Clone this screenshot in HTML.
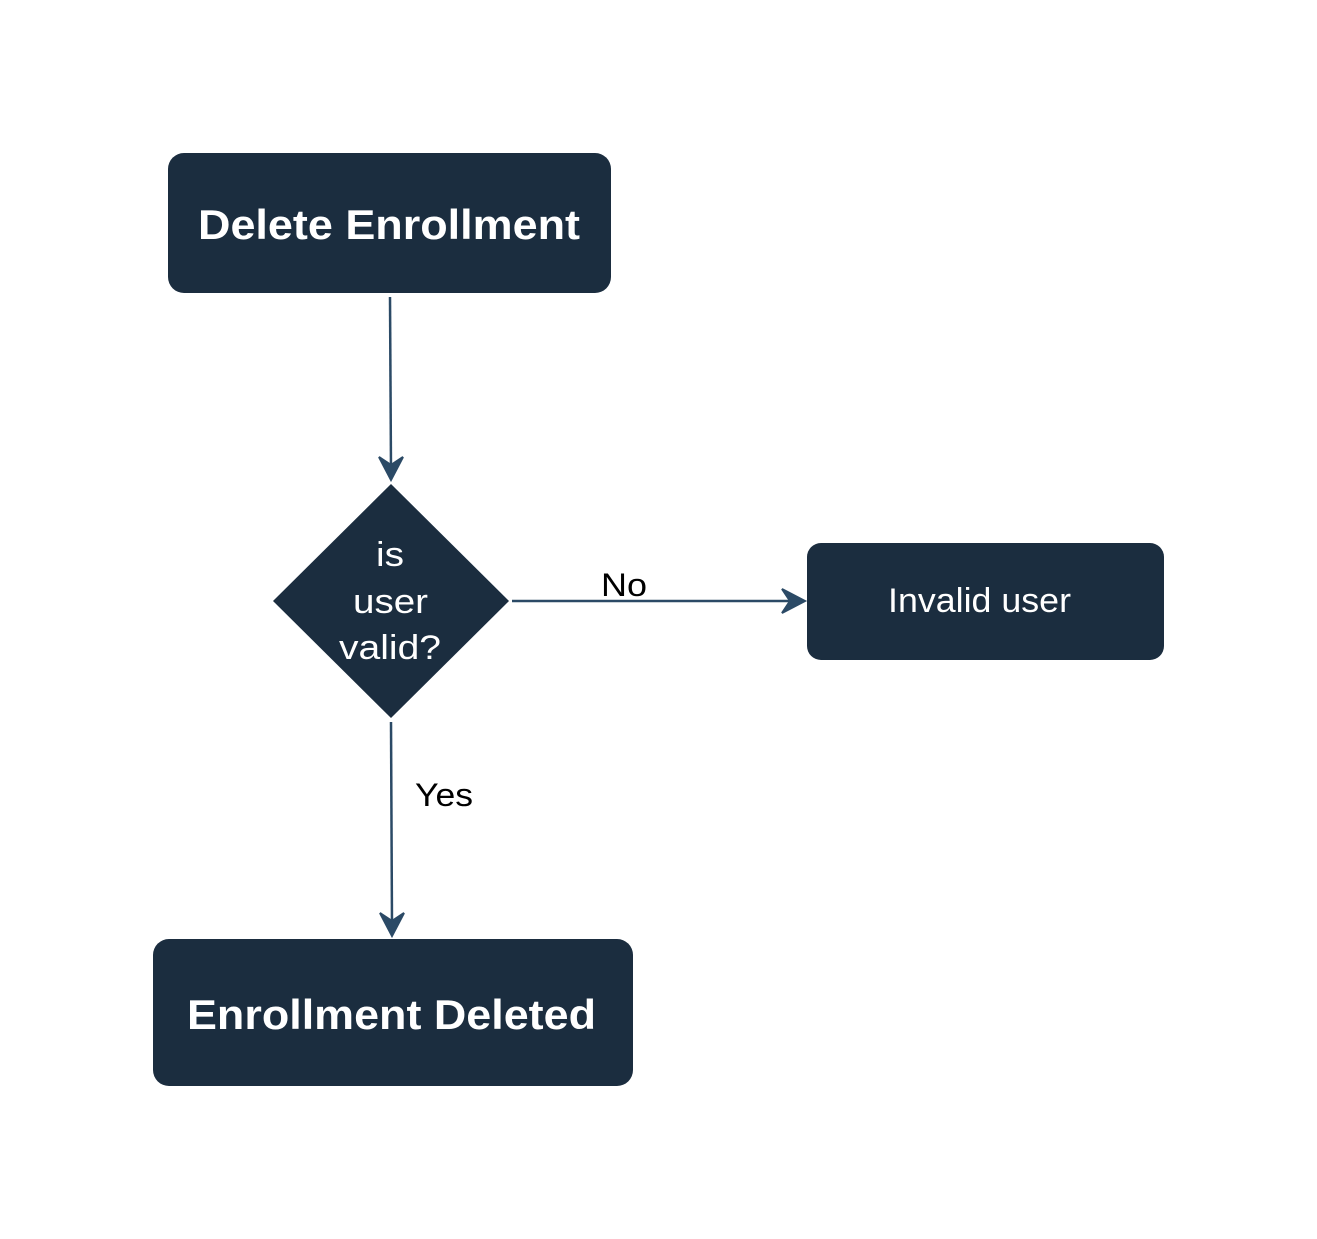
<!DOCTYPE html>
<html><head><meta charset="utf-8"><style>
html,body{margin:0;padding:0;background:#fff;}
svg{display:block;}
text{font-family:"Liberation Sans",sans-serif;}
</style></head><body>
<svg width="1317" height="1239" viewBox="0 0 1317 1239" xmlns="http://www.w3.org/2000/svg">
<rect x="168" y="153" width="443" height="140" rx="16" fill="#1b2d3f"/>
<text x="198" y="239" font-size="42" font-weight="bold" fill="#fff" textLength="382" lengthAdjust="spacingAndGlyphs">Delete Enrollment</text>
<path d="M390 297 L391 470" stroke="#2b4a66" stroke-width="2.5" fill="none"/>
<path d="M379 457 L391 480 L403 457 L391 465 Z" fill="#2b4a66" stroke="#2b4a66" stroke-width="2"/>
<polygon points="391,484 509,601 391,718 273,601" fill="#1b2d3f"/>
<text x="376" y="566" font-size="34" fill="#fff" textLength="28" lengthAdjust="spacingAndGlyphs">is</text>
<text x="353" y="613" font-size="34" fill="#fff" textLength="75" lengthAdjust="spacingAndGlyphs">user</text>
<text x="339" y="659" font-size="34" fill="#fff" textLength="102" lengthAdjust="spacingAndGlyphs">valid?</text>
<path d="M512 601 L795 601" stroke="#2b4a66" stroke-width="2.5"/>
<path d="M782 589 L805 601 L782 613 L790 601 Z" fill="#2b4a66" stroke="#2b4a66" stroke-width="2"/>
<text x="601" y="596" font-size="32" fill="#000" textLength="46" lengthAdjust="spacingAndGlyphs">No</text>
<rect x="807" y="543" width="357" height="117" rx="14" fill="#1b2d3f"/>
<text x="888" y="612" font-size="34" fill="#fff" textLength="183" lengthAdjust="spacingAndGlyphs">Invalid user</text>
<path d="M391 722 L392 926" stroke="#2b4a66" stroke-width="2.5" fill="none"/>
<path d="M380 913 L392 936 L404 913 L392 921 Z" fill="#2b4a66" stroke="#2b4a66" stroke-width="2"/>
<text x="415" y="806" font-size="32" fill="#000" textLength="58" lengthAdjust="spacingAndGlyphs">Yes</text>
<rect x="153" y="939" width="480" height="147" rx="16" fill="#1b2d3f"/>
<text x="187" y="1029" font-size="42" font-weight="bold" fill="#fff" textLength="409" lengthAdjust="spacingAndGlyphs">Enrollment Deleted</text>
</svg>
</body></html>
